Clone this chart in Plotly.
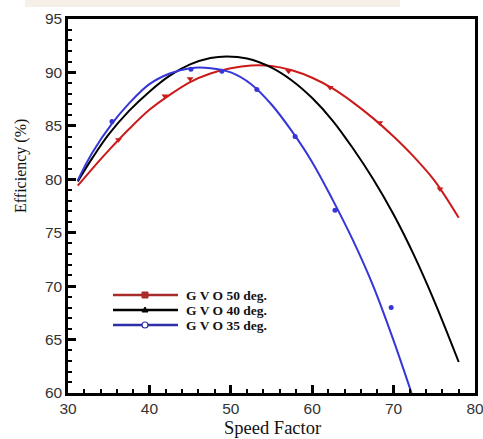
import plotly.graph_objects as go

# ---- data ----
red_curve_x = [31.2, 33, 35, 37.5, 40, 42.5, 45, 47.5, 50, 52.5, 55, 57.5, 60, 62.5, 65, 67.5, 70, 72.5, 75, 78]
red_curve_y = [79.4, 81.0, 82.7, 84.7, 86.5, 87.9, 89.1, 89.9, 90.4, 90.65, 90.6, 90.2, 89.5, 88.5, 87.2, 85.7, 84.0, 82.1, 79.9, 76.4]

black_curve_x = [31.2, 33, 35, 37.5, 40, 42.5, 45, 47.5, 49.5, 52, 55, 57.5, 60, 62.5, 65, 67.5, 70, 72.5, 75, 78]
black_curve_y = [79.8, 82.0, 84.2, 86.4, 88.2, 89.7, 90.75, 91.35, 91.5, 91.3, 90.45, 89.25, 87.6, 85.5, 82.9, 80.0, 76.7, 72.9, 68.6, 62.9]

blue_curve_x = [31.2, 33, 35.4, 37.5, 40, 42.5, 45, 47.5, 50, 52.5, 55, 57.5, 60, 62.5, 65, 67.5, 70, 72.2]
blue_curve_y = [79.9, 82.5, 85.2, 87.1, 88.9, 89.9, 90.4, 90.4, 90.0, 88.9, 87.0, 84.5, 81.6, 78.1, 74.3, 70.0, 64.9, 60.0]

red_pts_x = [36.2, 41.9, 45.0, 57.1, 62.2, 68.3, 75.7]
red_pts_y = [83.7, 87.8, 89.4, 90.1, 88.6, 85.3, 79.1]

blue_pts_x = [35.4, 45.1, 48.9, 53.2, 57.9, 62.8, 69.7]
blue_pts_y = [85.4, 90.3, 90.1, 88.4, 84.0, 77.1, 68.0]

series_names = ["G V O 50 deg.", "G V O 40 deg.", "G V O 35 deg."]
x_title = "Speed Factor"
y_title = "Efficiency (%)"

RED = "#cc1a1a"
BLACK = "#000000"
BLUE = "#3535d8"

fig = go.Figure()

for cx, cy, col in [(red_curve_x, red_curve_y, RED),
                    (black_curve_x, black_curve_y, BLACK),
                    (blue_curve_x, blue_curve_y, BLUE)]:
    fig.add_trace(go.Scatter(x=cx, y=cy, mode="lines",
                             line=dict(color=col, width=2, shape="spline", smoothing=1),
                             showlegend=False, hoverinfo="skip"))

fig.add_trace(go.Scatter(x=red_pts_x, y=red_pts_y, mode="markers",
                         marker=dict(symbol="triangle-down", size=6, color=RED),
                         showlegend=False))
fig.add_trace(go.Scatter(x=blue_pts_x, y=blue_pts_y, mode="markers",
                         marker=dict(symbol="circle", size=5, color=BLUE),
                         showlegend=False))

# ---- manual legend (paper coordinates) ----
PW, PH = 407.0, 374.0
def px2x(p):
    return (p - 68) / PW
def py2y(p):
    return (393 - p) / PH

shapes = []
annotations = []
leg_rows = [295, 310, 325]
leg_line_cols = ["#a82c2c", "#000000", "#2e2ea8"]
for row, col, name, k in zip(leg_rows, leg_line_cols, series_names, range(3)):
    yy = py2y(row)
    shapes.append(dict(type="line", xref="paper", yref="paper",
                       x0=px2x(113), x1=px2x(178), y0=yy, y1=yy,
                       line=dict(color=col, width=2.5)))
    mx = px2x(145)
    if k == 0:
        shapes.append(dict(type="rect", xref="paper", yref="paper",
                           xsizemode="pixel", ysizemode="pixel",
                           xanchor=mx, yanchor=yy, x0=-3, x1=3, y0=-3, y1=3,
                           fillcolor=col, line=dict(color=col, width=1)))
    elif k == 1:
        shapes.append(dict(type="path", xref="paper", yref="paper",
                           xsizemode="pixel", ysizemode="pixel",
                           xanchor=mx, yanchor=yy,
                           path="M -3,-2 L 3,-2 L 0,3 Z",
                           fillcolor=col, line=dict(color=col, width=1)))
    else:
        shapes.append(dict(type="circle", xref="paper", yref="paper",
                           xsizemode="pixel", ysizemode="pixel",
                           xanchor=mx, yanchor=yy, x0=-3, x1=3, y0=-3, y1=3,
                           fillcolor="white", line=dict(color=col, width=1.2)))
    annotations.append(dict(xref="paper", yref="paper", x=px2x(184), y=yy,
                            xanchor="left", yanchor="middle", showarrow=False,
                            text="<b>" + name + "</b>",
                            font=dict(family="Liberation Serif", size=13.5, color="#111")))

# axis titles as annotations (y title sits above the plot's vertical centre)
annotations.append(dict(xref="paper", yref="paper", x=px2x(21), y=py2y(166),
                        xanchor="center", yanchor="middle", showarrow=False,
                        textangle=-90, text=y_title,
                        font=dict(family="Liberation Serif", size=16, color="#111")))
annotations.append(dict(xref="paper", yref="paper", x=px2x(272), y=py2y(428),
                        xanchor="center", yanchor="middle", showarrow=False,
                        text=x_title,
                        font=dict(family="Liberation Serif", size=18.5, color="#111")))

# faint beige band at top of the image
shapes.append(dict(type="rect", xref="paper", yref="paper", layer="below",
                   x0=px2x(25), x1=px2x(400), y0=py2y(7), y1=py2y(0),
                   fillcolor="rgba(232,214,196,0.4)", line=dict(width=0)))

tickfont = dict(family="Liberation Sans", size=15.5, color="#333333")

fig.update_layout(
    width=483, height=439,
    margin=dict(l=68, r=8, t=19, b=46),
    paper_bgcolor="white", plot_bgcolor="white",
    shapes=shapes, annotations=annotations,
    showlegend=False,
    xaxis=dict(range=[30, 80], dtick=10, tick0=30, automargin=False,
               ticklabeloverflow="allow",
               showline=True, linecolor="black", linewidth=2.5, mirror=True,
               ticks="inside", ticklen=8, tickwidth=2.5, tickcolor="black",
               minor=dict(dtick=2, ticks="inside", ticklen=4, tickwidth=1.5, tickcolor="black"),
               showgrid=False, zeroline=False, tickfont=tickfont),
    yaxis=dict(range=[60, 95], dtick=5, tick0=60, automargin=False,
               ticklabeloverflow="allow",
               showline=True, linecolor="black", linewidth=2.5, mirror=True,
               ticks="inside", ticklen=8, tickwidth=2.5, tickcolor="black",
               minor=dict(dtick=1, ticks="inside", ticklen=4, tickwidth=1.5, tickcolor="black"),
               showgrid=False, zeroline=False, tickfont=tickfont),
)

fig.write_html("out.html",
               config={"displayModeBar": False},
               post_script="document.body.style.margin='0px';document.body.style.overflow='hidden';")
